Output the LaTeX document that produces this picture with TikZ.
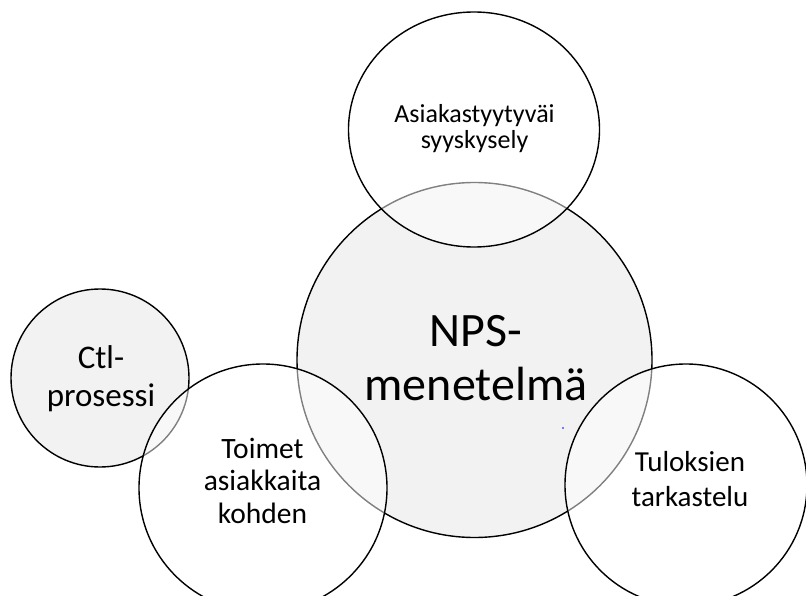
\documentclass[tikz,border=0pt]{standalone}
\usepackage{fontspec}
\setmainfont{Carlito}
\usetikzlibrary{shapes.geometric}
\definecolor{softgray}{HTML}{F2F2F2}
\tikzset{
  base/.style={draw=black, line width=1.4pt, inner sep=0pt},
  core/.style={base, circle, fill=softgray},
  satellite/.style={base, fill=white, fill opacity=0.5},
  caption/.style={align=center, inner sep=0pt, anchor=base, text=black},
}
\begin{document}
\begin{tikzpicture}[x=1pt, y=-1pt]
  \useasboundingbox (0,0) rectangle (806,596);
  \begin{scope}
    \clip (0,0) rectangle (806,596);
    % central method and the side process
    \node[core, minimum size=355pt] (nps) at (474.5,360) {};
    \node[core, minimum size=178pt] (ctl) at (100,378) {};
    % surrounding steps, lightly see-through
    \node[satellite, ellipse, minimum width=251pt, minimum height=235pt] (survey) at (474,129.5) {};
    \node[satellite, circle, minimum size=248pt] (actions) at (263,488) {};
    \node[satellite, circle, minimum size=242pt] (results) at (686,485) {};
    % captions, placed by the baseline of their last line
    \node[caption, font=\fontsize{26}{26}\selectfont] (surveytext) at (474.5,149) {Asiakastyytyväi\\syyskysely};
    \node[caption, font=\fontsize{48}{54}\selectfont] (npstext) at (476,400) {NPS-\\menetelmä};
    \node[caption, font=\fontsize{33}{38}\selectfont] (ctltext) at (101,406.3) {Ctl-\\prosessi};
    \node[caption, font=\fontsize{29.5}{32.5}\selectfont] (actionstext) at (262.5,523.3) {Toimet\\asiakkaita\\kohden};
    \node[caption, font=\fontsize{29}{35}\selectfont] (resultstext) at (690,506.7) {Tuloksien\\tarkastelu};
    % small blue mark
    \fill[blue] (563,428) circle (0.9pt);
  \end{scope}
\end{tikzpicture}
\end{document}
